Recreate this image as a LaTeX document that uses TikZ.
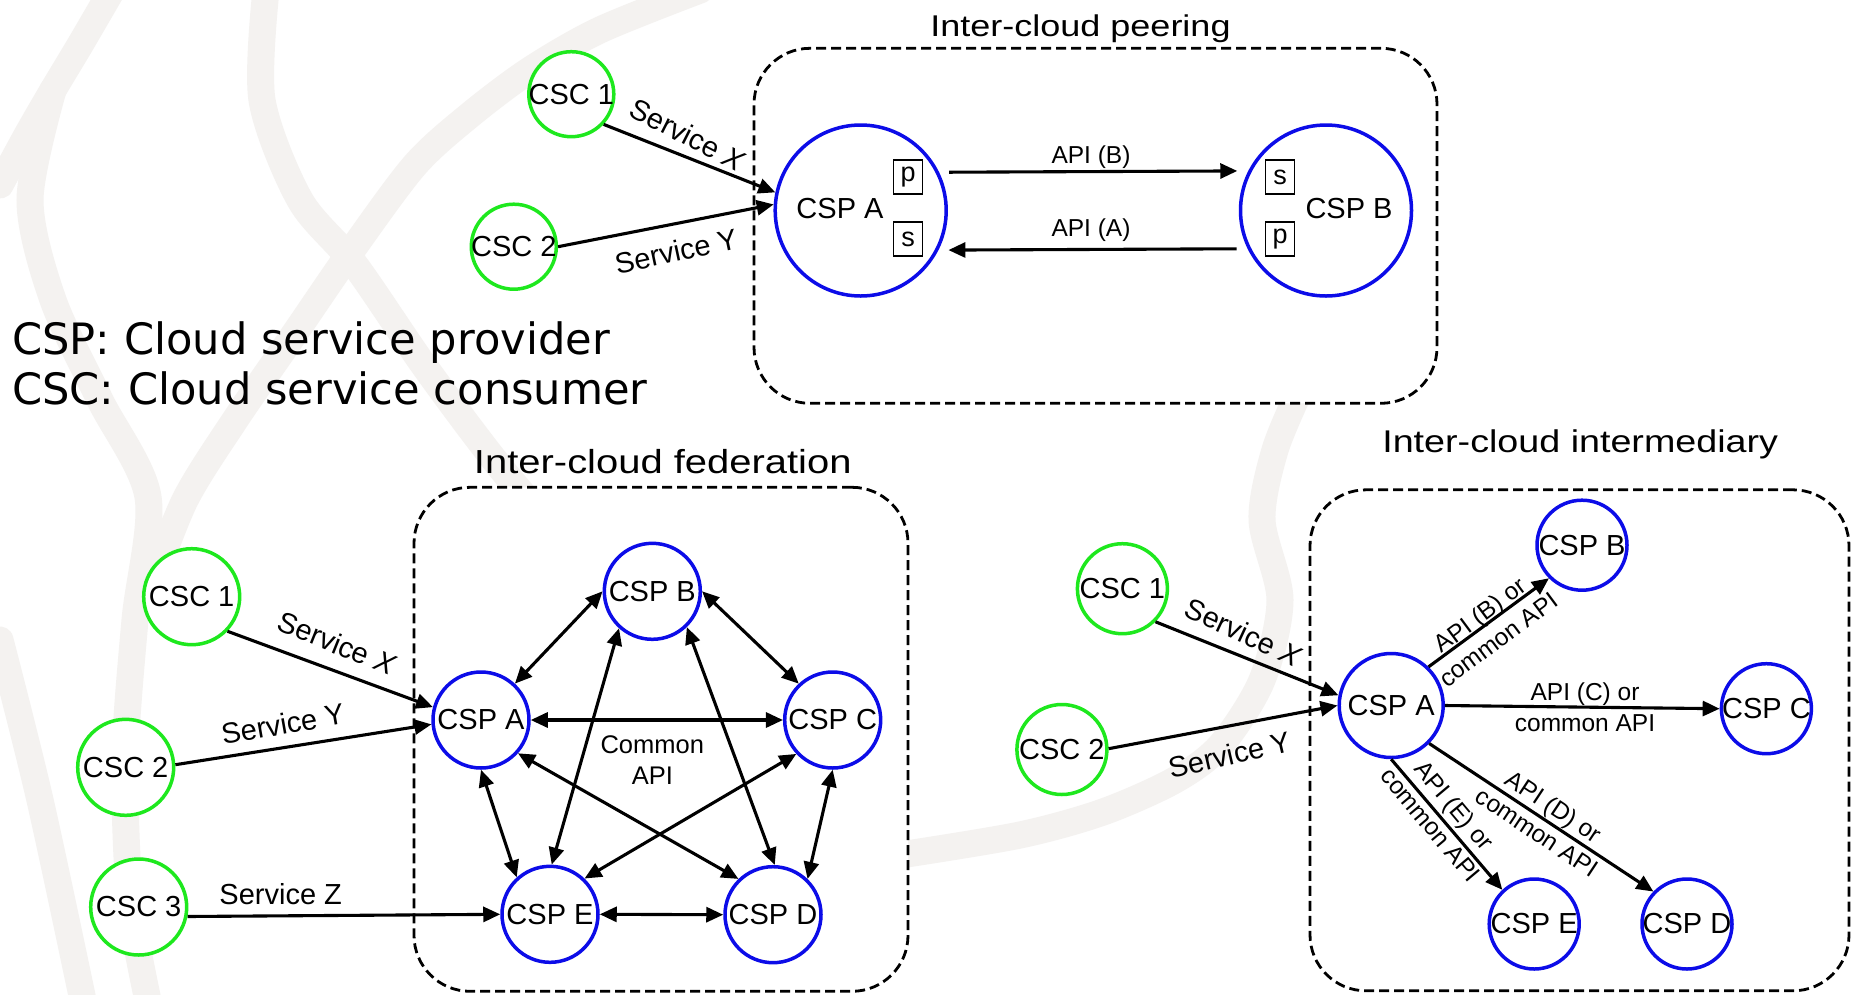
\documentclass[tikz,border=0pt]{standalone}
\usepackage{fontspec}
\setmainfont{Liberation Sans}
\newfontfamily\legendfont{DejaVu Sans}
\newfontfamily\titlefont[FakeStretch=1.2]{Liberation Sans}
\usetikzlibrary{arrows.meta}
\definecolor{cscgreen}{RGB}{30,232,30}
\definecolor{cspblue}{RGB}{12,12,232}
\definecolor{wm}{RGB}{244,242,240}
\tikzset{
  wmband/.style={draw=wm, line width=27pt, line cap=round},
  cscnode/.style={circle, draw=cscgreen, fill=white, line width=3.5pt, inner sep=0pt, font=\fontsize{29}{30}\selectfont},
  cspnode/.style={circle, draw=cspblue, fill=white, line width=3.5pt, inner sep=0pt, font=\fontsize{29}{30}\selectfont},
  txt/.style={inner sep=0pt, font=\fontsize{29}{30}\selectfont},
  svc/.style={inner sep=0pt, font=\fontsize{29}{30}\selectfont},
  apilbl/.style={inner sep=0pt, font=\fontsize{24.5}{30.6}\selectfont, align=center},
  pbox/.style={draw, line width=1.3pt, inner sep=0pt, minimum width=29pt, minimum height=34pt, font=\fontsize{27}{28}\selectfont},
  groupbox/.style={draw=black, fill=white, dash pattern=on 10pt off 5pt, line width=2.8pt, rounded corners=56pt},
  ttl/.style={inner sep=0pt, anchor=base},
  arr/.style={line width=3.1pt, -{Triangle[length=17pt,width=15pt]}},
  darr/.style={line width=3.1pt, {Triangle[length=17pt,width=15pt]}-{Triangle[length=17pt,width=15pt]}},
}
\begin{document}
\begin{tikzpicture}[x=1pt,y=-1pt]
\useasboundingbox[fill=white] (0,0) rectangle (1852,994);
% watermark
\draw[wmband] plot[smooth] coordinates {(112,-10) (80,45) (53,90) (27,135) (0,185)};
\draw[wmband] plot[smooth] coordinates {(53,90) (30,200) (53,300) (100,400) (148,497) (135,620) (125,760) (130,900) (150,1010)};
\draw[wmband] plot[smooth] coordinates {(266,-10) (262,100) (300,200) (355,265) (425,367) (500,467) (580,560)};
\draw[wmband] plot[smooth] coordinates {(700,-10) (600,30) (530,70) (470,115) (415,165) (352,250) (295,333) (235,420) (185,500) (150,590)};
\draw[wmband] plot[smooth] coordinates {(900,855) (1020,835) (1103,812) (1175,780) (1221,745) (1262,680) (1280,600) (1262,520) (1275,450) (1300,390)};
\draw[wmband] plot[smooth] coordinates {(0,640) (40,800) (85,1010)};
% ---------- peering ----------
\node[groupbox, minimum width=683pt, minimum height=355pt] (peerbox) at (1095.5,225.8) {};
\node[ttl, font=\titlefont\fontsize{30}{31}\selectfont] (peertitle) at (1080.5,36) {Inter-cloud peering};
\node[cspnode, minimum size=171pt] (pA) at (860.7,210.5) {};
\node[cspnode, minimum size=171pt] (pB) at (1326,210.5) {};
\node[txt] (pAl) at (840,208.3) {CSP A};
\node[txt] (pBl) at (1349,208.3) {CSP B};
\node[pbox] (pAp) at (908,177) {p};
\node[pbox] (pAs) at (908,239) {s};
\node[pbox] (pBs) at (1280,177) {s};
\node[pbox] (pBp) at (1280,239) {p};
\node[cscnode, minimum size=85pt] (pC1) at (571.3,94.2) {\makebox[0pt]{CSC 1}};
\node[cscnode, minimum size=85pt] (pC2) at (513.8,246.7) {\makebox[0pt]{CSC 2}};
\draw[arr] (pC1.317) -- (pA.168);
\draw[arr] (pC2.east) -- (pA.176);
\draw[arr, shorten <=10pt, shorten >=11pt] (pA.26.2) -- (pB.153.8);
\draw[arr, shorten <=11pt, shorten >=10pt] (pB.206.2) -- (pA.333.8);
\node[apilbl] (lAB) at (1091,156.7) {API (B)};
\node[apilbl] (lAA) at (1091,230) {API (A)};
\node[svc, rotate=-27] (pSX) at (688,135) {Service \textit{X}};
\node[svc, rotate=12] (pSY) at (676,251) {Service Y};
% ---------- legend ----------
\node[inner sep=0pt, anchor=base west, font=\legendfont\fontsize{43.2}{44}\selectfont] (leg1) at (12,354) {CSP: Cloud service provider};
\node[inner sep=0pt, anchor=base west, font=\legendfont\fontsize{43.2}{44}\selectfont] (leg2) at (12,404) {CSC: Cloud service consumer};
% ---------- federation ----------
\node[groupbox, minimum width=494pt, minimum height=504pt] (fedbox) at (661,739.3) {};
\node[ttl, font=\titlefont\fontsize{33.3}{34}\selectfont] (fedtitle) at (662.8,473) {Inter-cloud federation};
\node[cspnode, minimum size=96pt] (fA) at (481,720) {\makebox[0pt]{CSP A}};
\node[cspnode, minimum size=96pt] (fB) at (652.3,591.3) {\makebox[0pt]{CSP B}};
\node[cspnode, minimum size=96pt] (fC) at (832.7,720) {\makebox[0pt]{CSP C}};
\node[cspnode, minimum size=96pt] (fE) at (550,914.3) {\makebox[0pt]{CSP E}};
\node[cspnode, minimum size=96pt] (fD) at (773,914.7) {\makebox[0pt]{CSP D}};
\node[cscnode, minimum size=96pt] (fC1) at (191.7,596.7) {\makebox[0pt]{CSC 1}};
\node[cscnode, minimum size=96pt] (fC2) at (125.7,767.3) {\makebox[0pt]{CSC 2}};
\node[cscnode, minimum size=96pt] (fC3) at (138.7,907) {\makebox[0pt]{CSC 3}};
\draw[darr] (fA.47) -- (fB.west);
\draw[darr] (fB.east) -- (fC.133);
\draw[darr] (fA.east) -- (fC.west);
\draw[darr] (fB.228) -- (fE.88);
\draw[darr] (fB.314) -- (fD.88);
\draw[darr] (fA.south) -- (fE.132);
\draw[darr] (fC.south) -- (fD.46);
\draw[darr] (fA.318) -- (fD.134);
\draw[darr] (fC.223) -- (fE.46);
\draw[darr] (fE.east) -- (fD.west);
\draw[arr] (fC1.316) -- (fA.165);
\draw[arr] (fC2.3) -- (fA.185);
\draw[arr] (fC3.349) -- (fE.west);
\node[svc, rotate=-22] (fSX) at (337,643.5) {Service \textit{X}};
\node[svc, rotate=10] (fSY) at (282.7,724) {Service Y};
\node[svc] (fSZ) at (280.7,894) {Service Z};
\node[apilbl, font=\fontsize{25.5}{31.6}\selectfont] (fcom) at (652.3,760) {Common\\API};
% ---------- intermediary ----------
\node[groupbox, minimum width=539pt, minimum height=501pt] (intbox) at (1579.5,740.3) {};
\node[ttl, font=\titlefont\fontsize{31.4}{32}\selectfont] (inttitle) at (1580.2,452) {Inter-cloud intermediary};
\node[cspnode, minimum size=104pt] (iA) at (1391.2,705.5) {\makebox[0pt]{CSP A}};
\node[cspnode, minimum size=90pt] (iB) at (1582,545.2) {\makebox[0pt]{CSP B}};
\node[cspnode, minimum size=90pt] (iC) at (1766.4,708.7) {\makebox[0pt]{CSP C}};
\node[cspnode, minimum size=90pt] (iE) at (1534.2,924) {\makebox[0pt]{CSP E}};
\node[cspnode, minimum size=90pt] (iD) at (1687,924) {\makebox[0pt]{CSP D}};
\node[cscnode, minimum size=90pt] (iC1) at (1122.4,588.7) {\makebox[0pt]{CSC 1}};
\node[cscnode, minimum size=90pt] (iC2) at (1061.9,749.5) {\makebox[0pt]{CSC 2}};
\draw[arr] (iC1.315) -- (iA.169);
\draw[arr] (iC2.1) -- (iA.180);
\draw[arr] (iA.46) -- (iB.225);
\draw[arr] (iA.east) -- (iC.west);
\draw[arr] (iA.315) -- (iD.136);
\draw[arr] (iA.south) -- (iE.133);
\node[svc, rotate=-25] (iSX) at (1243.5,632.5) {Service \textit{X}};
\node[svc, rotate=13] (iSY) at (1230,754.5) {Service Y};
\node[apilbl, rotate=36.6] (iLB) at (1489,627) {API (B) or\\common API};
\node[apilbl] (iLC) at (1585,707.5) {API (C) or\\common API};
\node[apilbl, rotate=-33.5] (iLD) at (1545.6,819.2) {API (D) or\\common API};
\node[apilbl, rotate=-50] (iLE) at (1442.7,815) {API (E) or\\common API};
\end{tikzpicture}
\end{document}
